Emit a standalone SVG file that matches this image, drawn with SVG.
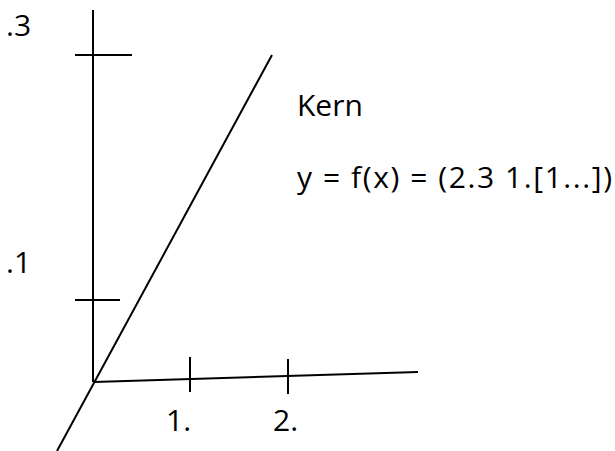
<svg xmlns="http://www.w3.org/2000/svg" width="615" height="451" viewBox="0 0 615 451">
<style>
.ax{stroke:#000;stroke-width:2;fill:none;stroke-linecap:butt}
.t{font-family:"Open Sans","Liberation Sans",sans-serif;font-size:30px;fill:#000}
</style>
<rect width="615" height="451" fill="#fff"/>
<g id="connectors">
<line class="ax" x1="93" y1="10" x2="93" y2="382"/>
<line class="ax" x1="75" y1="55" x2="132" y2="55"/>
<line class="ax" x1="75" y1="300" x2="120" y2="300"/>
<line class="ax" x1="94" y1="382" x2="418" y2="372"/>
<line class="ax" x1="190" y1="357" x2="190" y2="392"/>
<line class="ax" x1="288" y1="359" x2="288" y2="394"/>
<line class="ax" x1="272" y1="55" x2="57" y2="451"/>
</g>
<g id="labels">
<text class="t" x="6" y="36">.3</text>
<text class="t" x="6" y="273">.1</text>
<text class="t" x="166" y="431">1.</text>
<text class="t" x="273" y="431">2.</text>
<text class="t" x="297" y="116">Kern</text>
<text class="t" x="297" y="188" textLength="315" lengthAdjust="spacing">y = f(x) = (2.3 1.[1...])</text>
</g>
</svg>
